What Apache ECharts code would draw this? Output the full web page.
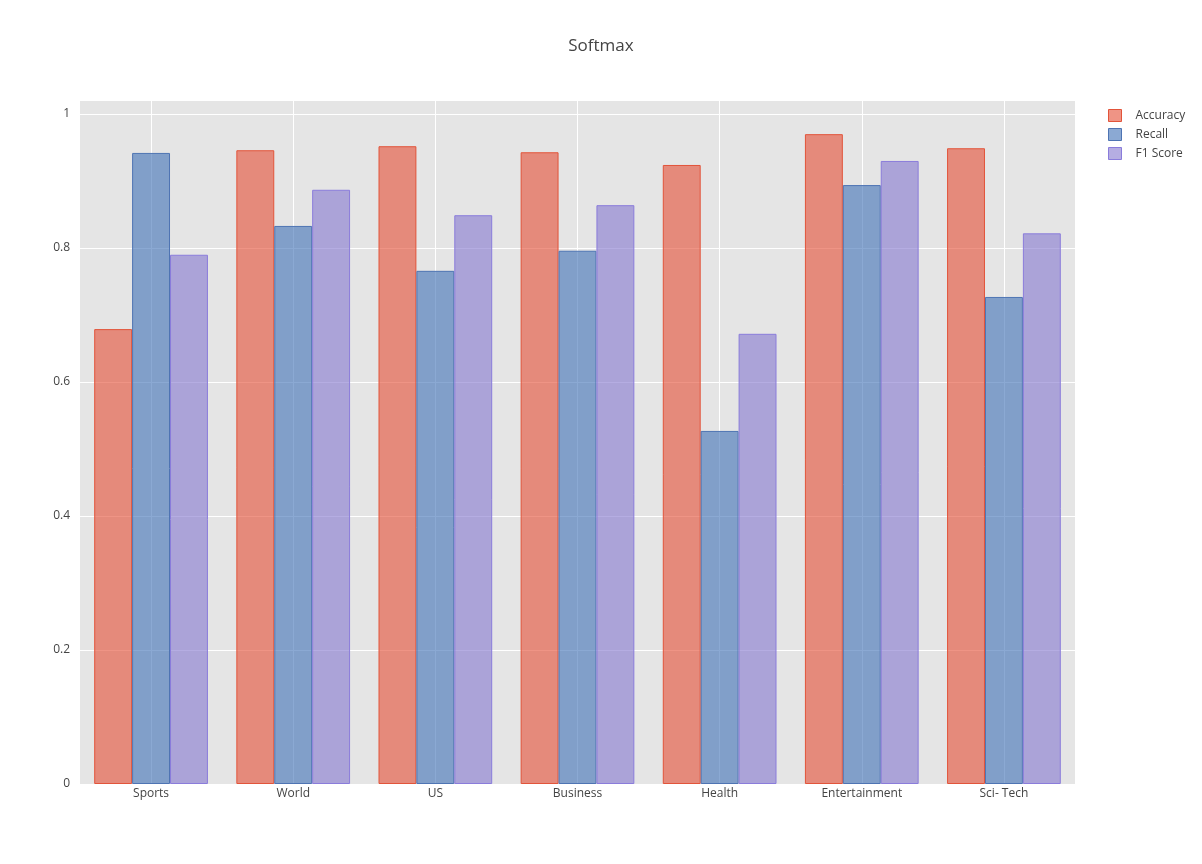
<!DOCTYPE html>
<html>
<head>
<meta charset="utf-8">
<script src="https://cdn.jsdelivr.net/npm/echarts@6/dist/echarts.min.js"></script>
<style>html,body{margin:0;padding:0;background:#fff;}#c{width:1202px;height:864px;}</style>
</head>
<body>
<div id="c"></div>
<script>
const categories = ['Sports', 'World', 'US', 'Business', 'Health', 'Entertainment', 'Sci- Tech'];
const accuracy = [0.679, 0.946, 0.952, 0.943, 0.924, 0.970, 0.949];
const recall = [0.942, 0.833, 0.766, 0.796, 0.527, 0.894, 0.727];
const f1Score = [0.790, 0.887, 0.849, 0.864, 0.672, 0.930, 0.822];
const yTicks = [0, 0.2, 0.4, 0.6, 0.8, 1];

const chart = echarts.init(document.getElementById('c'), null, {renderer: 'canvas'});
const font = '"Open Sans", "Noto Sans", sans-serif';
function mk(name, data, fill, border) {
  return {
    name: name, type: 'bar', data: data,
    barGap: '0%', barCategoryGap: '20%',
    itemStyle: {color: fill, borderColor: border, borderWidth: 1},
    emphasis: {disabled: true}
  };
}
chart.setOption({
  animation: false,
  backgroundColor: '#ffffff',
  textStyle: {fontFamily: font},
  title: {text: 'Softmax', left: 'center', top: 33,
    textStyle: {fontFamily: font, fontSize: 17, fontWeight: 'normal', color: '#444'}},
  legend: {
    orient: 'vertical', left: 1108, top: 109, padding: 0, itemWidth: 13, itemHeight: 12, itemGap: 6,
    icon: 'rect',
    itemStyle: {borderWidth: 1},
    textStyle: {fontFamily: font, fontSize: 12, color: '#444', padding: [0, 0, 0, 9]},
    data: ['Accuracy', 'Recall', 'F1 Score']
  },
  grid: {left: 80, right: 127, top: 100, bottom: 80, show: true, backgroundColor: '#e5e5e5', borderWidth: 0},
  xAxis: {
    type: 'category', data: categories,
    axisLine: {show: false}, axisTick: {show: false, alignWithLabel: true},
    axisLabel: {color: '#444', fontSize: 12, fontFamily: font, margin: 4},
    splitLine: {show: true, alignWithLabel: true, lineStyle: {color: '#ffffff', width: 1}},
    axisPointer: {show: false}
  },
  yAxis: {
    type: 'value', min: 0, max: 1.021, interval: 0.2,
    axisLine: {show: false}, axisTick: {show: false},
    axisLabel: {color: '#444', fontSize: 12, fontFamily: font, margin: 10, showMaxLabel: false,
      formatter: function (v) { return yTicks.indexOf(Math.round(v * 10) / 10) >= 0 ? String(Math.round(v * 10) / 10) : ''; }},
    splitLine: {show: true, lineStyle: {color: '#ffffff', width: 1}}
  },
  series: [
    mk('Accuracy', accuracy, 'rgba(229,76,52,0.6)', 'rgba(226,84,58,1)'),
    mk('Recall', recall, 'rgba(62,112,181,0.6)', 'rgba(78,116,179,1)'),
    mk('F1 Score', f1Score, 'rgba(131,119,207,0.6)', 'rgba(138,124,219,1)')
  ]
});
</script>
</body>
</html>
